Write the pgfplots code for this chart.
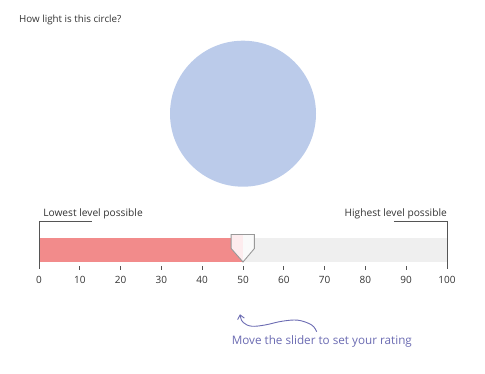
\documentclass[border=0pt]{standalone}
\usepackage{pgfplots}
\pgfplotsset{compat=1.18}
\usepackage{fontspec}
\setmainfont{Open Sans}
\usetikzlibrary{arrows.meta}
\definecolor{circ}{HTML}{BBCBEA}
\definecolor{barred}{HTML}{F28B8B}
\definecolor{bargrey}{HTML}{EFEFEF}
\definecolor{txt}{HTML}{333333}
\definecolor{linec}{HTML}{555555}
\definecolor{annot}{HTML}{6B6BB2}
\definecolor{handlel}{HTML}{FDECEE}
\definecolor{handler}{HTML}{FAFAFA}
\begin{document}
\begin{tikzpicture}
\begin{axis}[
  width=485pt, height=374pt, scale only axis,
  xmin=-9.559, xmax=109.314, ymin=0, ymax=374, y dir=reverse,
  axis line style={draw=none}, ticks=none, clip=false,
]
% title
\node[anchor=west, inner sep=0, text=txt] at (axis cs:-4.9,20) {\fontsize{9.8}{12}\selectfont How light is this circle?};
% circle
\fill[circ] (axis cs:50,113.7) circle [radius=73pt];
% slider track
\addplot[fill=bargrey, draw=none] coordinates {(0,238) (100,238) (100,262) (0,262)} -- cycle;
% value
\addplot[fill=barred, draw=none] coordinates {(0,238) (50,238) (50,262) (0,262)} -- cycle;
% handle
\addplot[fill=handlel, draw=none] coordinates {(47.1,234.5) (50,234.5) (50,262) (47.1,248.5)} -- cycle;
\addplot[fill=handler, draw=none] coordinates {(50,234.5) (52.8,234.5) (52.8,248.5) (50,262)} -- cycle;
\addplot[draw=gray!80, line width=0.9pt] coordinates {(47.1,234.5) (52.8,234.5) (52.8,248.5) (50,262) (47.1,248.5)} -- cycle;
% end brackets
\addplot[draw=linec, line width=0.8pt] coordinates {(12.9,221.5) (0,221.5) (0,269)};
\addplot[draw=linec, line width=0.8pt] coordinates {(87,221.5) (100,221.5) (100,269)};
\node[anchor=base west, inner sep=0, text=txt] at (axis cs:1,216.5) {\fontsize{10.2}{12}\selectfont Lowest level possible};
\node[anchor=base east, inner sep=0, text=txt] at (axis cs:100,216.5) {\fontsize{10.2}{12}\selectfont Highest level possible};
% ticks
\addplot[only marks, mark=|, mark size=2pt, mark options={draw=linec, line width=0.7pt}]
  coordinates {(10,268.5) (20,268.5) (30,268.5) (40,268.5) (50,268.5) (60,268.5) (70,268.5) (80,268.5) (90,268.5)};
\begin{scope}[every node/.style={text=txt, font=\fontsize{10}{12}\selectfont}]
\node at (axis cs:0,279.5) {0};
\node at (axis cs:10,279.5) {10};
\node at (axis cs:20,279.5) {20};
\node at (axis cs:30,279.5) {30};
\node at (axis cs:40,279.5) {40};
\node at (axis cs:50,279.5) {50};
\node at (axis cs:60,279.5) {60};
\node at (axis cs:70,279.5) {70};
\node at (axis cs:80,279.5) {80};
\node at (axis cs:90,279.5) {90};
\node at (axis cs:100,279.5) {100};
\end{scope}
% annotation
\addplot[draw=annot, line width=0.9pt, smooth, tension=0.6, {Straight Barb[length=4pt,width=7pt]}-]
  coordinates {(49.26,314.3) (50.07,322.5) (52.13,326.2) (55.39,325) (59.49,321.3) (63.48,320.2) (66.84,325) (68.06,331.7)};
\node[anchor=west, inner sep=0, text=annot, font=\fontsize{11.7}{13}\selectfont] at (axis cs:47.2,341.7) {Move the slider to set your rating};
\end{axis}
\end{tikzpicture}
\end{document}
